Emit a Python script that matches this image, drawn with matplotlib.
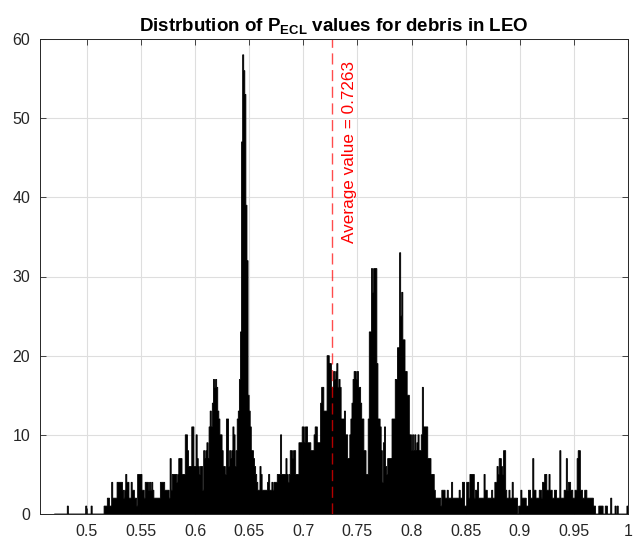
import numpy as np
import matplotlib
matplotlib.use("Agg")
import matplotlib.pyplot as plt

plt.rcParams["font.family"] = ["Liberation Sans", "DejaVu Sans"]
plt.rcParams["mathtext.fontset"] = "custom"
plt.rcParams["mathtext.rm"] = "Liberation Sans"
plt.rcParams["mathtext.bf"] = "Liberation Sans:bold"

# ---- data: histogram counts, bins of width 0.001 starting at 0.470 ----
bin_start = 0.470
bin_width = 0.001
c_047 = [0, 0, 0, 0, 0, 0, 0, 0, 0, 0]
c_048 = [0, 0, 1, 0, 0, 0, 0, 0, 0, 0]
c_049 = [0, 0, 0, 0, 0, 0, 0, 0, 0, 1]
c_050 = [0, 0, 0, 0, 1, 0, 0, 0, 0, 0]
c_051 = [0, 0, 0, 0, 0, 0, 1, 1, 1, 2]
c_052 = [2, 1, 1, 4, 2, 2, 2, 2, 4, 4]
c_053 = [4, 4, 4, 3, 2, 3, 5, 4, 4, 2]
c_054 = [2, 4, 3, 3, 2, 2, 1, 5, 5, 5]
c_055 = [5, 3, 3, 2, 4, 4, 4, 3, 4, 3]
c_056 = [4, 3, 2, 2, 2, 2, 2, 2, 4, 4]
c_057 = [4, 4, 3, 3, 3, 3, 2, 7, 3, 5]
c_058 = [5, 5, 5, 4, 5, 7, 7, 7, 5, 5]
c_059 = [5, 10, 10, 8, 6, 6, 6, 11, 11, 6]
c_060 = [6, 10, 7, 6, 5, 6, 6, 3, 8, 7]
c_061 = [8, 9, 7, 11, 13, 11, 14, 17, 16, 17]
c_062 = [16, 13, 12, 10, 10, 8, 6, 6, 5, 12]
c_063 = [12, 6, 8, 7, 8, 11, 10, 6, 8, 12]
c_064 = [13, 17, 23, 47, 58, 56, 53, 39, 32, 15]
c_065 = [13, 11, 8, 8, 7, 6, 5, 4, 3, 3]
c_066 = [6, 5, 3, 3, 3, 3, 3, 4, 5, 3]
c_067 = [3, 4, 3, 4, 4, 4, 5, 5, 5, 10]
c_068 = [5, 5, 5, 5, 7, 5, 4, 5, 8, 8]
c_069 = [7, 8, 8, 5, 5, 5, 9, 9, 9, 11]
c_070 = [11, 9, 11, 11, 9, 9, 9, 8, 8, 8]
c_071 = [10, 11, 11, 9, 9, 9, 14, 16, 16, 13]
c_072 = [13, 13, 20, 20, 19, 19, 16, 16, 18, 17]
c_073 = [18, 19, 16, 17, 16, 12, 12, 12, 13, 10]
c_074 = [10, 7, 7, 10, 12, 14, 17, 18, 18, 17]
c_075 = [18, 16, 16, 14, 12, 12, 8, 8, 5, 5]
c_076 = [12, 23, 23, 31, 28, 31, 31, 31, 19, 12]
c_077 = [12, 11, 8, 4, 9, 11, 6, 5, 7, 7]
c_078 = [7, 7, 12, 12, 12, 17, 17, 21, 21, 33]
c_079 = [25, 28, 22, 22, 18, 18, 15, 15, 10, 10]
c_080 = [8, 10, 8, 10, 8, 9, 10, 8, 8, 10]
c_081 = [16, 11, 11, 11, 11, 7, 7, 7, 5, 5]
c_082 = [5, 3, 2, 2, 2, 2, 2, 1, 3, 3]
c_083 = [3, 2, 2, 3, 2, 2, 2, 4, 2, 2]
c_084 = [2, 2, 2, 2, 3, 2, 2, 4, 4, 1]
c_085 = [1, 4, 4, 2, 5, 5, 5, 5, 2, 3]
c_086 = [3, 4, 2, 2, 2, 2, 2, 5, 3, 3]
c_087 = [2, 2, 2, 2, 3, 2, 2, 4, 4, 6]
c_088 = [5, 7, 7, 6, 5, 8, 8, 3, 2, 2]
c_089 = [3, 2, 2, 4, 2, 2, 2, 2, 0, 1]
c_090 = [1, 3, 2, 2, 2, 2, 1, 1, 3, 3]
c_091 = [2, 2, 7, 3, 3, 2, 2, 2, 3, 3]
c_092 = [2, 4, 4, 5, 5, 3, 3, 5, 3, 3]
c_093 = [2, 2, 3, 3, 2, 2, 2, 8, 2, 2]
c_094 = [2, 3, 3, 7, 3, 4, 4, 3, 3, 2]
c_095 = [2, 3, 3, 7, 8, 8, 3, 3, 2, 2]
c_096 = [3, 3, 2, 2, 2, 2, 2, 2, 1, 1]
c_097 = [0, 0, 0, 1, 1, 1, 1, 0, 0, 1]
c_098 = [1, 0, 0, 0, 2, 0, 0, 0, 1, 0]
c_099 = [1, 0, 0, 0, 0, 0, 0, 0, 0, 1]

count_rows = [c_047, c_048, c_049, c_050, c_051, c_052, c_053, c_054, c_055,
              c_056, c_057, c_058, c_059, c_060, c_061, c_062, c_063, c_064,
              c_065, c_066, c_067, c_068, c_069, c_070, c_071, c_072, c_073,
              c_074, c_075, c_076, c_077, c_078, c_079, c_080, c_081, c_082,
              c_083, c_084, c_085, c_086, c_087, c_088, c_089, c_090, c_091,
              c_092, c_093, c_094, c_095, c_096, c_097, c_098, c_099]

avg_value = 0.7263
x_ticks = [0.5, 0.55, 0.6, 0.65, 0.7, 0.75, 0.8, 0.85, 0.9, 0.95, 1.0]
x_tick_labels = ["0.5", "0.55", "0.6", "0.65", "0.7", "0.75", "0.8",
                 "0.85", "0.9", "0.95", "1"]
y_ticks = [0, 10, 20, 30, 40, 50, 60]
title_text = r"Distrbution of $\mathbf{P_{ECL}}$ values for debris in LEO"
avg_label = "Average value = 0.7263"

counts = np.concatenate([np.array(r, dtype=float) for r in count_rows])
edges = bin_start + bin_width * np.arange(len(counts) + 1)

fig = plt.figure(figsize=(6.33, 5.49), dpi=100)
ax = fig.add_axes([40 / 633, 35 / 549, 588 / 633, 475 / 549])

ax.set_axisbelow(True)
ax.grid(True, color="#dedede", linewidth=0.8)
ax.stairs(counts, edges, fill=True, color="black", linewidth=0)
ax.stairs(counts, edges, fill=False, color="black", linewidth=0.6)

ax.axvline(avg_value, color="red", alpha=0.7, linestyle=(0, (8, 4)),
           linewidth=1.0)
ax.text(0.7425, 34.2, avg_label, rotation=90, color="red", fontsize=12.3,
        ha="center", va="bottom")

ax.set_xlim(0.4568, 1.0)
ax.set_ylim(0, 60)
ax.set_xticks(x_ticks)
ax.set_xticklabels(x_tick_labels)
ax.set_yticks(y_ticks)
ax.tick_params(direction="in", length=4, width=0.6, colors="#262626",
               labelsize=11.5, top=True, right=True, pad=7)
for s in ax.spines.values():
    s.set_color("#262626")
    s.set_linewidth(0.7)

ax.set_title(title_text, fontsize=13.5, fontweight="bold", pad=6)

fig.savefig("out.png", dpi=100)
